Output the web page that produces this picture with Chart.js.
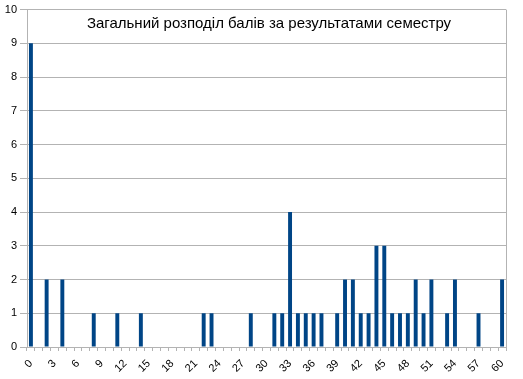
<!DOCTYPE html>
<html>
<head>
<meta charset="utf-8">
<script src="https://cdn.jsdelivr.net/npm/chart.js@4"></script>
<style>
  html, body { margin: 0; padding: 0; background: #fff; }
  #wrap { width: 523px; height: 379px; }
</style>
</head>
<body>
<div id="wrap"><canvas id="myChart"></canvas></div>
<script>
  const chartTitle = 'Загальний розподіл балів за результатами семестру';

  // scores 0..60
  const categories = ['0', '1', '2', '3', '4', '5', '6', '7', '8', '9',
    '10', '11', '12', '13', '14', '15', '16', '17', '18', '19',
    '20', '21', '22', '23', '24', '25', '26', '27', '28', '29',
    '30', '31', '32', '33', '34', '35', '36', '37', '38', '39',
    '40', '41', '42', '43', '44', '45', '46', '47', '48', '49',
    '50', '51', '52', '53', '54', '55', '56', '57', '58', '59', '60'];

  // number of students per score
  const counts = [9, 0, 2, 0, 2, 0, 0, 0, 1, 0,
    0, 1, 0, 0, 1, 0, 0, 0, 0, 0,
    0, 0, 1, 1, 0, 0, 0, 0, 1, 0,
    0, 1, 1, 4, 1, 1, 1, 1, 0, 1,
    2, 2, 1, 1, 3, 3, 1, 1, 1, 2,
    1, 2, 0, 1, 2, 0, 0, 1, 0, 0, 2];

  const xTickLabels = ['0', '3', '6', '9', '12', '15', '18', '21', '24', '27',
    '30', '33', '36', '39', '42', '45', '48', '51', '54', '57', '60'];
  const yTickLabels = [0, 1, 2, 3, 4, 5, 6, 7, 8, 9, 10];

  const gridColor = '#b3b3b3';

  // title sits inside the plot area, plus the right frame line
  const framePlugin = {
    id: 'frame',
    afterDraw(chart) {
      const { ctx, chartArea } = chart;
      ctx.save();
      ctx.strokeStyle = gridColor;
      ctx.lineWidth = 1;
      ctx.beginPath();
      ctx.moveTo(chartArea.right + 0.5, chartArea.top);
      ctx.lineTo(chartArea.right + 0.5, chartArea.bottom);
      ctx.stroke();
      ctx.fillStyle = '#000';
      ctx.font = '15px "Liberation Sans"';
      ctx.textAlign = 'center';
      ctx.textBaseline = 'alphabetic';
      ctx.fillText(chartTitle, 269, 28);
      ctx.restore();
    }
  };

  const ctx = document.getElementById('myChart').getContext('2d');
  new Chart(ctx, {
    type: 'bar',
    data: {
      labels: categories,
      datasets: [{
        data: counts,
        backgroundColor: '#004586',
        borderWidth: 0,
        categoryPercentage: 1,
        barPercentage: 0.5
      }]
    },
    options: {
      responsive: true,
      maintainAspectRatio: false,
      animation: false,
      layout: {
        autoPadding: false,
        padding: { left: 5, right: 17, top: 5, bottom: 0 }
      },
      scales: {
        x: {
          afterFit: (axis) => { axis.height = 32; },
          grid: {
            drawOnChartArea: false,
            drawTicks: true,
            tickLength: 4,
            tickColor: gridColor
          },
          border: { display: true, color: gridColor },
          ticks: {
            autoSkip: false,
            minRotation: 45,
            maxRotation: 45,
            padding: 6,
            color: '#000',
            font: { family: 'Liberation Sans', size: 11 },
            callback: function (value) {
              const lbl = categories[value];
              return xTickLabels.includes(lbl) ? lbl : '';
            }
          }
        },
        y: {
          min: 0,
          max: 10,
          afterFit: (axis) => { axis.width = 22; },
          afterBuildTicks: (axis) => {
            axis.ticks = yTickLabels.map(v => ({ value: v }));
          },
          grid: {
            color: gridColor,
            tickLength: 7,
            tickColor: gridColor
          },
          border: { display: true, color: gridColor },
          ticks: {
            padding: 3,
            color: '#000',
            font: { family: 'Liberation Sans', size: 11 }
          }
        }
      },
      plugins: {
        legend: { display: false },
        title: { display: false },
        tooltip: { enabled: false }
      }
    },
    plugins: [framePlugin]
  });
</script>
</body>
</html>
